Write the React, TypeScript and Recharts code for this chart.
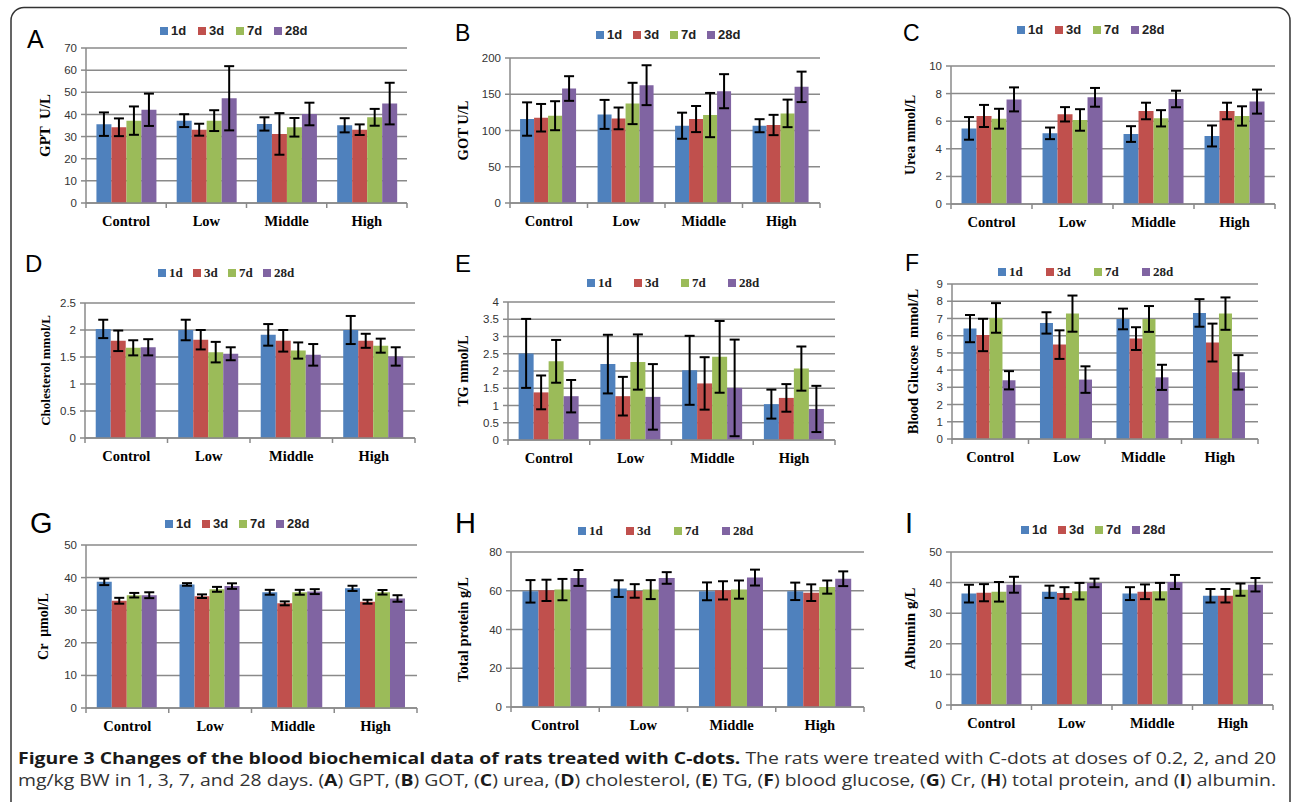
import React from "react";
import { BarChart, Bar, XAxis, YAxis, CartesianGrid, ErrorBar, Legend } from "recharts";

const groups = ["Control", "Low", "Middle", "High"];
const periods = ["1d", "3d", "7d", "28d"];
const colors = ["#4F81BD", "#C0504D", "#9BBB59", "#8064A2"];

// each row = one period (1d, 3d, 7d, 28d), columns = Control, Low, Middle, High
const gptMean = [[35.6, 37.2, 35.7, 35.1], [34.2, 33.1, 31.2, 33.1], [37.2, 37.2, 34.2, 38.7], [42.1, 47.3, 40.2, 44.9]];
const gptErr = [[5.3, 2.9, 3.0, 3.2], [4.0, 2.7, 9.4, 2.4], [6.4, 4.7, 4.2, 3.8], [7.3, 14.5, 5.1, 9.4]];
const gptTicks = [0, 10, 20, 30, 40, 50, 60, 70];

const gotMean = [[115.8, 122.2, 106.6, 106.6], [117.6, 116.7, 115.8, 107.6], [120.4, 137.3, 121.3, 123.6], [157.9, 162.5, 154.2, 160.2]];
const gotErr = [[23, 20, 18, 9], [19, 15, 18, 14], [20, 28.5, 30.5, 19], [17, 27.5, 23.5, 21]];
const gotTicks = [0, 50, 100, 150, 200];

const ureaMean = [[5.48, 5.12, 5.07, 4.93], [6.38, 6.5, 6.74, 6.74], [6.18, 6.09, 6.21, 6.38], [7.58, 7.73, 7.61, 7.42]];
const ureaErr = [[0.82, 0.42, 0.57, 0.76], [0.8, 0.52, 0.6, 0.6], [0.72, 0.78, 0.59, 0.7], [0.87, 0.68, 0.6, 0.87]];
const ureaTicks = [0, 2, 4, 6, 8, 10];

const cholMean = [[2.02, 2.0, 1.91, 2.0], [1.8, 1.82, 1.8, 1.8], [1.67, 1.59, 1.62, 1.71], [1.68, 1.56, 1.54, 1.51]];
const cholErr = [[0.17, 0.19, 0.2, 0.26], [0.19, 0.18, 0.2, 0.13], [0.14, 0.19, 0.15, 0.13], [0.15, 0.12, 0.2, 0.17]];
const cholTicks = [0, 0.5, 1, 1.5, 2, 2.5];

const tgMean = [[2.51, 2.2, 2.02, 1.04], [1.38, 1.27, 1.64, 1.22], [2.28, 2.26, 2.41, 2.07], [1.27, 1.25, 1.51, 0.9]];
const tgErr = [[1.0, 0.85, 1.0, 0.42], [0.49, 0.56, 0.76, 0.4], [0.62, 0.8, 1.04, 0.64], [0.47, 0.95, 1.4, 0.67]];
const tgTicks = [0, 0.5, 1, 1.5, 2, 2.5, 3, 3.5, 4];

const gluMean = [[6.41, 6.74, 6.97, 7.32], [6.04, 5.48, 5.83, 5.6], [7.03, 7.28, 6.97, 7.28], [3.41, 3.45, 3.58, 3.87]];
const gluErr = [[0.79, 0.62, 0.6, 0.8], [0.94, 0.83, 0.66, 1.1], [0.86, 1.05, 0.75, 0.94], [0.53, 0.77, 0.73, 1.0]];
const gluTicks = [0, 1, 2, 3, 4, 5, 6, 7, 8, 9];

const crMean = [[38.7, 37.9, 35.5, 36.7], [32.9, 34.3, 32.1, 32.6], [34.6, 36.4, 35.5, 35.5], [34.6, 37.4, 35.7, 33.6]];
const crErr = [[1.0, 0.4, 0.75, 0.8], [0.9, 0.55, 0.6, 0.6], [0.7, 0.75, 0.75, 0.7], [0.9, 0.85, 0.75, 1.0]];
const crTicks = [0, 10, 20, 30, 40, 50];

const tpMean = [[59.7, 61.1, 59.7, 59.7], [60.2, 59.9, 60.2, 59.0], [60.6, 60.6, 60.6, 61.9], [66.6, 66.6, 66.8, 66.2]];
const tpErr = [[5.8, 4.3, 4.6, 4.5], [5.5, 3.5, 4.7, 4.3], [5.5, 4.9, 4.7, 3.4], [4.1, 3.0, 4.1, 3.8]];
const tpTicks = [0, 20, 40, 60, 80];

const albMean = [[36.4, 37.0, 36.4, 35.7], [36.7, 36.6, 37.0, 35.7], [37.0, 37.2, 37.2, 37.7], [39.3, 39.9, 40.2, 39.3]];
const albErr = [[2.9, 2.0, 2.1, 2.2], [2.8, 1.9, 2.4, 2.2], [3.2, 2.7, 2.7, 2.0], [2.6, 1.4, 2.3, 2.2]];
const albTicks = [0, 10, 20, 30, 40, 50];

const SANS = "'Liberation Sans', Arial, sans-serif";
const SERIF = "'Liberation Serif', 'Times New Roman', serif";
const GRID = "#8a8a8a";

type Panel = {
  letter: string;
  letterSize: number;
  letterPos: [number, number];
  title: string;
  titleSize: number;
  titleX: number;
  mean: number[][];
  err: number[][];
  ticks: number[];
  plot: [number, number, number, number];
  legend: [number, number, number];
  legendSerif: boolean;
  gap: string;
};

const panels: Panel[] = [
  { letter: "A", letterSize: 25, letterPos: [27, 48], title: "GPT  U/L", titleSize: 15, titleX: 45, mean: gptMean, err: gptErr, ticks: gptTicks, plot: [86, 407, 48, 203], legend: [160, 31, 38], legendSerif: false, gap: "13%" },
  { letter: "B", letterSize: 23, letterPos: [455, 41], title: "GOT U/L", titleSize: 14.5, titleX: 463, mean: gotMean, err: gotErr, ticks: gotTicks, plot: [510, 820, 58, 203], legend: [596, 35, 37], legendSerif: false, gap: "13%" },
  { letter: "C", letterSize: 23, letterPos: [903, 41], title: "Urea mmol/L", titleSize: 14, titleX: 910, mean: ureaMean, err: ureaErr, ticks: ureaTicks, plot: [951, 1275, 66, 204], legend: [1017, 30, 38], legendSerif: false, gap: "13%" },
  { letter: "D", letterSize: 24, letterPos: [25, 272], title: "Cholesterol mmol/L", titleSize: 13, titleX: 45, mean: cholMean, err: cholErr, ticks: cholTicks, plot: [85, 415, 303, 438], legend: [158, 273, 35], legendSerif: true, gap: "13%" },
  { letter: "E", letterSize: 24, letterPos: [455, 272], title: "TG mmol/L", titleSize: 14, titleX: 463, mean: tgMean, err: tgErr, ticks: tgTicks, plot: [508, 835, 302, 440], legend: [587, 283, 47], legendSerif: true, gap: "13%" },
  { letter: "F", letterSize: 23, letterPos: [905, 271], title: "Blood Glucose  mmol/L", titleSize: 14.5, titleX: 913, mean: gluMean, err: gluErr, ticks: gluTicks, plot: [952, 1258, 284, 439], legend: [998, 272, 48], legendSerif: true, gap: "15%" },
  { letter: "G", letterSize: 29, letterPos: [30, 533], title: "Cr  \u03bcmol/L", titleSize: 14, titleX: 43, mean: crMean, err: crErr, ticks: crTicks, plot: [86, 417, 545, 708], legend: [165, 524, 37], legendSerif: false, gap: "13%" },
  { letter: "H", letterSize: 29, letterPos: [455, 533], title: "Total protein g/L", titleSize: 14.5, titleX: 463, mean: tpMean, err: tpErr, ticks: tpTicks, plot: [511, 864, 552, 707], legend: [578, 531, 48], legendSerif: true, gap: "13%" },
  { letter: "I", letterSize: 29, letterPos: [905, 533], title: "Albumin g/L", titleSize: 15, titleX: 910, mean: albMean, err: albErr, ticks: albTicks, plot: [951, 1273, 552, 705], legend: [1021, 530, 37], legendSerif: false, gap: "13%" },
];

function buildRows(mean: number[][], err: number[][]) {
  return groups.map((g, i) => {
    const row: any = { group: g };
    periods.forEach((p, s) => {
      row[p] = mean[s][i];
      row[p + "_e"] = err[s][i];
    });
    return row;
  });
}

// category label plus Excel-style tick marks on the category boundaries
function CategoryTick(props: any) {
  const { x, y, payload, index, visibleTicksCount } = props;
  const half = payload.offset || 0;
  const last = index === (visibleTicksCount || groups.length) - 1;
  return (
    <g>
      <line x1={x - half} x2={x - half} y1={y} y2={y + 5} stroke={GRID} strokeWidth={1.5} />
      {last && <line x1={x + half} x2={x + half} y1={y} y2={y + 5} stroke={GRID} strokeWidth={1.5} />}
      <text x={x} y={y + 18} textAnchor="middle" dominantBaseline="central"
        style={{ fontFamily: SERIF, fontWeight: "bold", fontSize: 14.5 }} fill="#000">
        {payload.value}
      </text>
    </g>
  );
}

function Chart({ p }: { p: Panel }) {
  const [pl, pr, pt, pb] = p.plot;
  const left = pl - 60;
  const top = pt - 40;
  const width = pr - left + 2;
  const height = pb - top + 32;
  const rows = buildRows(p.mean, p.err);
  const [lx, ly, pitch] = p.legend;

  const legendContent = (props: any) => {
    const items = [...(props.payload || [])].sort(
      (a: any, b: any) => periods.indexOf(a.value) - periods.indexOf(b.value)
    );
    return (
      <div style={{ display: "flex", fontFamily: p.legendSerif ? SERIF : SANS, fontWeight: "bold", fontSize: 13, color: "#222", lineHeight: "16px" }}>
        {items.map((e: any) => (
          <div key={e.value} style={{ width: pitch, display: "flex", alignItems: "center" }}>
            <span style={{ display: "inline-block", width: 8, height: 8, background: e.color, marginRight: 3 }} />
            <span>{e.value}</span>
          </div>
        ))}
      </div>
    );
  };

  const titleLabel = {
    content: (props: any) => {
      const vb = props.viewBox || { y: 0, height: 0 };
      const cx = p.titleX - left;
      const cy = vb.y + vb.height / 2;
      return (
        <text x={cx} y={cy} transform={`rotate(-90 ${cx} ${cy})`} textAnchor="middle" dominantBaseline="central"
          style={{ fontFamily: SERIF, fontWeight: "bold", fontSize: p.titleSize, whiteSpace: "pre" }} fill="#000">
          {p.title}
        </text>
      );
    },
  };

  return (
    <div style={{ position: "absolute", left, top }}>
      <BarChart width={width} height={height} data={rows} margin={{ top: 40, right: 2, bottom: 2, left: 0 }} barCategoryGap={p.gap} barGap={0}>
        <CartesianGrid vertical={false} stroke={GRID} strokeWidth={1.5} />
        <XAxis dataKey="group" height={30} tickLine={false} tickSize={0} tickMargin={0} axisLine={{ stroke: GRID, strokeWidth: 1.5 }}
          tick={<CategoryTick />} interval={0} />
        <YAxis width={60} domain={[p.ticks[0], p.ticks[p.ticks.length - 1]]} ticks={p.ticks} interval={0}
          axisLine={{ stroke: GRID, strokeWidth: 1.5 }} tickLine={{ stroke: GRID, strokeWidth: 1.5 }} tickSize={5} tickMargin={4}
          tick={{ fontFamily: SANS, fontSize: 11.5, fill: "#333" }} label={titleLabel} />
        <Legend verticalAlign="middle" align="center" content={legendContent}
          wrapperStyle={{ left: lx - left, top: ly - 8 - top, width: pitch * 4 + 10 }} />
        {periods.map((s, i) => (
          <Bar key={s} dataKey={s} name={s} fill={colors[i]} isAnimationActive={false}>
            <ErrorBar dataKey={s + "_e"} width={5} stroke="#000" strokeWidth={2} direction="y" />
          </Bar>
        ))}
      </BarChart>
    </div>
  );
}

export default function App() {
  return (
    <div style={{ position: "absolute", left: 0, top: 0, width: 1292, height: 802, overflow: "hidden", background: "#fff" }}>
      {panels.map((p) => (
        <Chart key={p.letter} p={p} />
      ))}
      <svg width={1292} height={802} style={{ position: "absolute", left: 0, top: 0, pointerEvents: "none" }}>
        <rect x={11} y={7.5} width={1279} height={820} rx={13} fill="none" stroke="#333" strokeWidth={1.5} />
        {panels.map((p) => (
          <text key={p.letter} x={p.letterPos[0]} y={p.letterPos[1]} style={{ fontFamily: SANS, fontSize: p.letterSize }} fill="#000">
            {p.letter}
          </text>
        ))}
        <text x={18} y={764} textLength={1258} lengthAdjust="spacingAndGlyphs" style={{ fontFamily: "'Open Sans', sans-serif", fontSize: 16.5 }} fill="#333">
          <tspan fontWeight="bold" fill="#1a1a1a">Figure 3 Changes of the blood biochemical data of rats treated with C-dots.</tspan>
          <tspan> The rats were treated with C-dots at doses of 0.2, 2, and 20</tspan>
        </text>
        <text x={18} y={786} textLength={1258} lengthAdjust="spacingAndGlyphs" style={{ fontFamily: "'Open Sans', sans-serif", fontSize: 16.5 }} fill="#333">
          <tspan>mg/kg BW in 1, 3, 7, and 28 days. (</tspan><tspan fontWeight="bold" fill="#1a1a1a">A</tspan>
          <tspan>) GPT, (</tspan><tspan fontWeight="bold" fill="#1a1a1a">B</tspan>
          <tspan>) GOT, (</tspan><tspan fontWeight="bold" fill="#1a1a1a">C</tspan>
          <tspan>) urea, (</tspan><tspan fontWeight="bold" fill="#1a1a1a">D</tspan>
          <tspan>) cholesterol, (</tspan><tspan fontWeight="bold" fill="#1a1a1a">E</tspan>
          <tspan>) TG, (</tspan><tspan fontWeight="bold" fill="#1a1a1a">F</tspan>
          <tspan>) blood glucose, (</tspan><tspan fontWeight="bold" fill="#1a1a1a">G</tspan>
          <tspan>) Cr, (</tspan><tspan fontWeight="bold" fill="#1a1a1a">H</tspan>
          <tspan>) total protein, and (</tspan><tspan fontWeight="bold" fill="#1a1a1a">I</tspan>
          <tspan>) albumin.</tspan>
        </text>
      </svg>
    </div>
  );
}
